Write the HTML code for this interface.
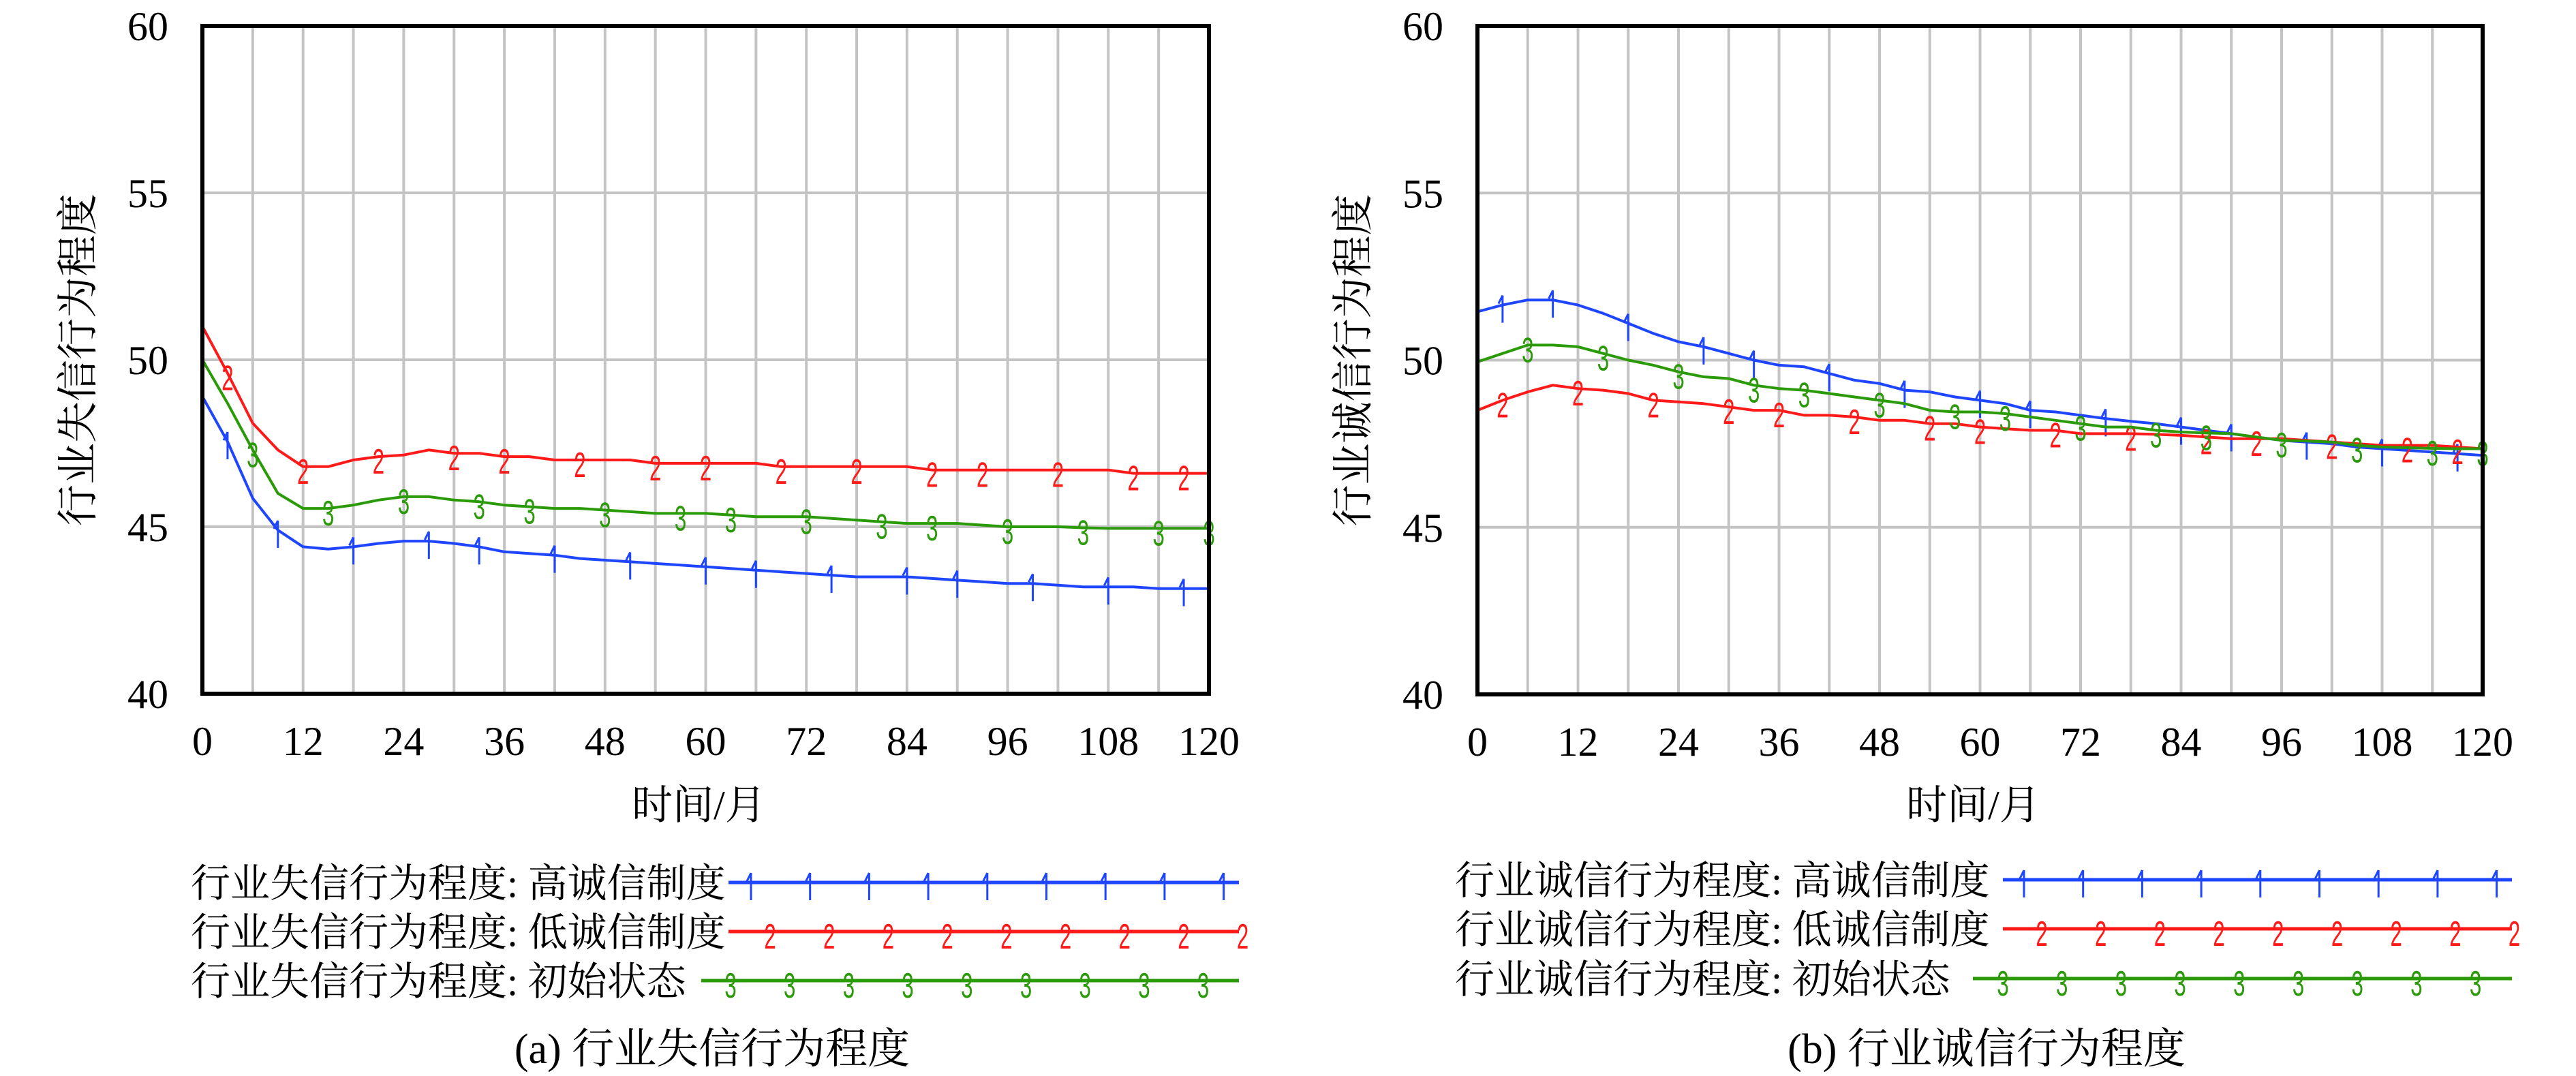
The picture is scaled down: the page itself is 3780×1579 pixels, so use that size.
<!DOCTYPE html>
<html><head><meta charset="utf-8"><style>
html,body{margin:0;padding:0;background:#fff;}
svg{display:block;}
text{font-family:"Liberation Serif","Noto Serif CJK SC",serif;fill:#000;}
</style></head><body>
<svg id="root" width="3780" height="1579" viewBox="0 0 3780 1579" xmlns="http://www.w3.org/2000/svg"></svg>
<script>
const months = [0,3,6,9,12,15,18,21,24,27,30,33,36,39,42,45,48,51,54,57,60,63,66,69,72,75,78,81,84,87,90,93,96,99,102,105,108,111,114,117,120];
const xTicks = [0,12,24,36,48,60,72,84,96,108,120];
const yTicks = [40,45,50,55,60];
// Panel A: 行业失信行为程度
const aHigh = [48.9,47.55,45.85,44.9,44.4,44.33,44.4,44.5,44.57,44.57,44.5,44.4,44.25,44.2,44.15,44.05,44.0,43.95,43.9,43.85,43.8,43.75,43.7,43.65,43.6,43.55,43.5,43.5,43.5,43.45,43.4,43.35,43.3,43.3,43.25,43.2,43.2,43.2,43.15,43.15,43.15];
const aLow = [51.0,49.6,48.1,47.3,46.8,46.8,47.0,47.1,47.15,47.3,47.2,47.2,47.1,47.1,47.0,47.0,47.0,47.0,46.9,46.9,46.9,46.9,46.9,46.8,46.8,46.8,46.8,46.8,46.8,46.7,46.7,46.7,46.7,46.7,46.7,46.7,46.7,46.6,46.6,46.6,46.6];
const aInit = [50.0,48.7,47.3,46.0,45.55,45.55,45.65,45.8,45.9,45.9,45.8,45.75,45.65,45.6,45.55,45.55,45.5,45.45,45.4,45.4,45.4,45.35,45.3,45.3,45.3,45.25,45.2,45.15,45.1,45.1,45.1,45.05,45.0,45.0,45.0,44.97,44.95,44.95,44.95,44.95,44.95];
// Panel B: 行业诚信行为程度
const bHigh = [51.45,51.65,51.8,51.8,51.65,51.4,51.1,50.8,50.55,50.4,50.2,50.0,49.85,49.8,49.6,49.4,49.3,49.1,49.05,48.9,48.8,48.7,48.5,48.45,48.35,48.25,48.17,48.1,48.0,47.9,47.8,47.7,47.6,47.55,47.5,47.4,47.35,47.3,47.25,47.2,47.15];
const bLow = [48.5,48.8,49.05,49.25,49.15,49.1,49.0,48.8,48.75,48.7,48.6,48.5,48.5,48.35,48.35,48.3,48.2,48.2,48.1,48.1,48.0,47.95,47.9,47.9,47.8,47.8,47.8,47.78,47.75,47.7,47.65,47.65,47.65,47.6,47.55,47.5,47.45,47.45,47.45,47.4,47.35];
const bInit = [49.95,50.2,50.45,50.45,50.4,50.2,50.0,49.85,49.65,49.5,49.45,49.25,49.15,49.1,49.0,48.9,48.8,48.7,48.5,48.45,48.45,48.4,48.3,48.2,48.1,48.0,48.0,47.9,47.85,47.82,47.8,47.7,47.6,47.58,47.55,47.45,47.4,47.38,47.36,47.35,47.35];
const markHigh = [3,9,18,27,33,42,51,60,66,75,84,90,99,108,117];
const markLow = [3,12,21,30,36,45,54,60,69,78,87,93,102,111,117];
const markInit = [6,15,24,33,39,48,57,63,72,81,87,96,105,114,120];

const NS = "http://www.w3.org/2000/svg";
const root = document.getElementById('root');
function mk(tag, attrs, parent, txt){
  const e = document.createElementNS(NS, tag);
  for (const k in attrs) e.setAttribute(k, attrs[k]);
  if (txt !== undefined) e.textContent = txt;
  (parent || root).appendChild(e);
  return e;
}
const BLUE = "#1f46ff", RED = "#ff1a1a", GREEN = "#2a9a08";

function blueMarker(g, x, y){
  const m = mk('path', {d:`M${x},${y-14} L${x},${y+26} M${x},${y-14} L${x-6},${y-2}`, stroke:BLUE, 'stroke-width':3, fill:'none'}, g);
  
  
}
function glyphMarker(g, x, y, ch, color, name){
  const t = mk('text', {x:0, y:0, 'font-size':52, 'text-anchor':'middle', transform:`translate(${x},${y+25}) scale(0.6,1)`, style:`font-family:"Liberation Sans",sans-serif;fill:${color}`}, g, ch);
  
  
}

function panel(cfg){
  const {L,R,T,B,name,ytitle,ytitleX,series,legendX,legendRows,caption,captionX} = cfg;
  const g = mk('g', {});
  
  
  const xs = m => L + (R-L)*m/120;
  const ys = v => B - (B-T)*(v-40)/20;
  for (let m=6; m<120; m+=6){
    const l = mk('line', {x1:xs(m), x2:xs(m), y1:T, y2:B, stroke:'#c4c4c4', 'stroke-width':4}, g);
    
    
  }
  for (const v of [45,50,55]){
    const l = mk('line', {x1:L, x2:R, y1:ys(v), y2:ys(v), stroke:'#c4c4c4', 'stroke-width':4}, g);
    
    
  }
  for (const t of xTicks){
    const e = mk('text', {x:xs(t), y:B+90, 'font-size':60, 'text-anchor':'middle'}, g, String(t));
    
    
  }
  for (const t of yTicks){
    const e = mk('text', {x:L-50, y:ys(t)+21, 'font-size':60, 'text-anchor':'end'}, g, String(t));
    
    
  }
  const yt = mk('text', {x:0, y:0, 'font-size':61, 'text-anchor':'middle', transform:`translate(${ytitleX+22},${(T+B)/2}) rotate(-90)`}, g, ytitle);
  
  
  const xt = mk('text', {x:(L+R)/2-10, y:1202, 'font-size':60, 'text-anchor':'middle'}, g, '时间/月');
  
  
  series.forEach(s => {
    const sg = mk('g', {}, g);
    
    
    const d = s.vals.map((v,i) => (i?'L':'M') + xs(months[i]).toFixed(1) + ',' + ys(v).toFixed(1)).join(' ');
    const p = mk('path', {d, stroke:s.color, 'stroke-width':4, fill:'none', 'stroke-linejoin':'round'}, sg);
    
    
    s.marks.forEach(m => {
      const idx = months.indexOf(m);
      const v = idx >= 0 ? s.vals[idx] : s.vals[0];
      const x = xs(m), y = ys(v);
      if (s.key === 'high') blueMarker(sg, x, y);
      else glyphMarker(sg, x, y, s.key === 'low' ? '2' : '3', s.color, 'marker-' + s.key);
    });
  });
  const fr = mk('rect', {x:L, y:T, width:R-L, height:B-T, fill:'none', stroke:'#000', 'stroke-width':6}, g);
  
  
  legendRows.forEach((r, i) => {
    const lg = mk('g', {}, g);
    
    
    const tx = mk('text', {x:legendX, y:r.y+21, 'font-size':58}, lg, r.label);
    
    
    const ln = mk('line', {x1:r.x1, x2:r.x2, y1:r.y, y2:r.y, stroke:r.color, 'stroke-width':5}, lg);
    
    
    for (let k=0; k<9; k++){
      const mx = r.m0 + k*86.7;
      if (r.key === 'high') blueMarker(lg, mx, r.y);
      else glyphMarker(lg, mx, r.y, r.key === 'low' ? '2' : '3', r.color, 'legend-marker');
    }
  });
  const cap = mk('text', {x:captionX, y:1560, 'font-size':62, 'text-anchor':'middle'}, g, caption);
  
  
}

panel({L:297,R:1774,T:38,B:1018,name:'chart-dishonesty',ytitle:'行业失信行为程度',ytitleX:113,
  series:[{key:'high',vals:aHigh,color:BLUE,marks:markHigh},{key:'low',vals:aLow,color:RED,marks:markLow},{key:'init',vals:aInit,color:GREEN,marks:markInit}],
  legendX:280,
  legendRows:[
    {key:'high',label:'行业失信行为程度: 高诚信制度',y:1295,x1:1069,x2:1818,color:BLUE,m0:1102},
    {key:'low',label:'行业失信行为程度: 低诚信制度',y:1367,x1:1069,x2:1818,color:RED,m0:1130},
    {key:'init',label:'行业失信行为程度: 初始状态',y:1439,x1:1029,x2:1818,color:GREEN,m0:1072}],
  caption:'(a) 行业失信行为程度',captionX:1045});

panel({L:2168,R:3643,T:38,B:1019,name:'chart-honesty',ytitle:'行业诚信行为程度',ytitleX:1984,
  series:[{key:'high',vals:bHigh,color:BLUE,marks:markHigh},{key:'low',vals:bLow,color:RED,marks:markLow},{key:'init',vals:bInit,color:GREEN,marks:markInit}],
  legendX:2135,
  legendRows:[
    {key:'high',label:'行业诚信行为程度: 高诚信制度',y:1291,x1:2939,x2:3686,color:BLUE,m0:2970},
    {key:'low',label:'行业诚信行为程度: 低诚信制度',y:1363,x1:2939,x2:3686,color:RED,m0:2996},
    {key:'init',label:'行业诚信行为程度: 初始状态',y:1436,x1:2895,x2:3686,color:GREEN,m0:2939}],
  caption:'(b) 行业诚信行为程度',captionX:2915});
</script>
</body></html>
